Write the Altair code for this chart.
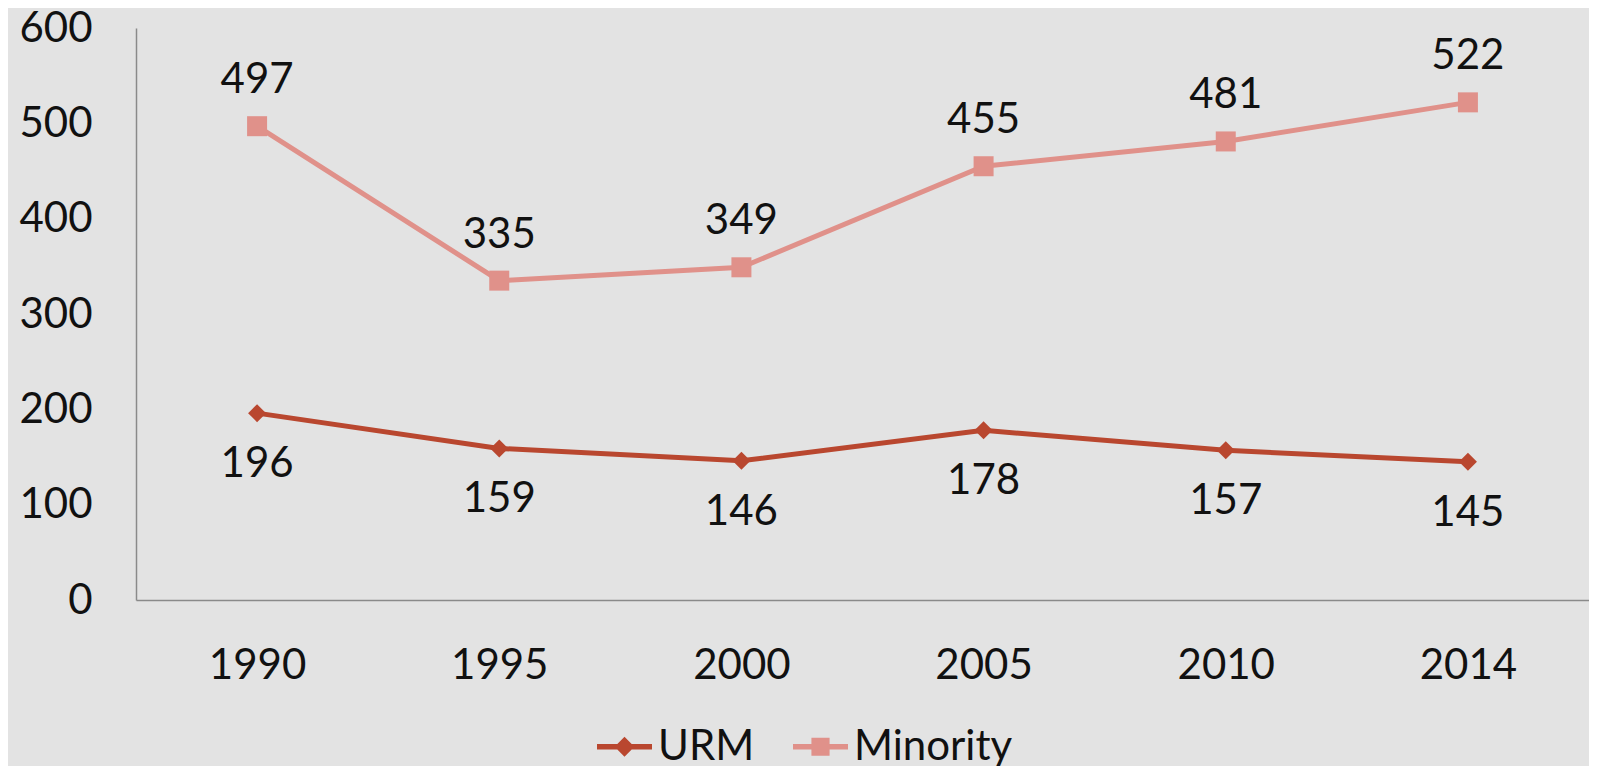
import altair as alt
import pandas as pd

years = ["1990", "1995", "2000", "2005", "2010", "2014"]
urm = [196, 159, 146, 178, 157, 145]
minority = [497, 335, 349, 455, 481, 522]
series_names = ["URM", "Minority"]
series_colors = ["#B9472F", "#E0918A"]
y_ticks = [0, 100, 200, 300, 400, 500, 600]

rows = []
for y, v in zip(years, urm):
    rows.append({"year": y, "value": v, "series": "URM"})
for y, v in zip(years, minority):
    rows.append({"year": y, "value": v, "series": "Minority"})
df = pd.DataFrame(rows)

FONT = "Lato"
FS = 42

color_scale = alt.Scale(domain=series_names, range=series_colors)

x_enc = alt.X("year:O", sort=years, scale=alt.Scale(padding=0.5),
              axis=alt.Axis(title=None, labelAngle=0, ticks=False, grid=False,
                            domainColor="#8A8A8A", domainWidth=1.5,
                            labelFont=FONT, labelFontSize=FS, labelColor="#111111",
                            labelPadding=45))
y_enc = alt.Y("value:Q", scale=alt.Scale(domain=[0, 600], nice=False),
              axis=alt.Axis(title=None, values=y_ticks, ticks=False, grid=False,
                            domainColor="#8A8A8A", domainWidth=1.5,
                            labelFont=FONT, labelFontSize=FS, labelColor="#111111",
                            labelPadding=44))

base = alt.Chart(df).encode(x=x_enc, y=y_enc)
urm_base = base.transform_filter(alt.datum.series == "URM")
min_base = base.transform_filter(alt.datum.series == "Minority")

urm_line = urm_base.mark_line(strokeWidth=5).encode(color=alt.value(series_colors[0]))
min_line = min_base.mark_line(strokeWidth=5).encode(color=alt.value(series_colors[1]))
urm_pts = urm_base.mark_point(shape="diamond", filled=True, size=324, opacity=1,
                              strokeWidth=0).encode(color=alt.value(series_colors[0]))
min_pts = min_base.mark_point(shape="square", filled=True, size=400, opacity=1,
                              strokeWidth=0).encode(color=alt.value(series_colors[1]))

lab_min = min_base.mark_text(dy=-46, font=FONT, fontSize=FS, baseline="middle").encode(
    text="value:Q", color=alt.value("#111111"))
lab_urm = urm_base.mark_text(dy=51, font=FONT, fontSize=FS, baseline="middle").encode(
    text="value:Q", color=alt.value("#111111"))

urm_sym = "M-1,-0.1L1,-0.1L1,0.1L-1,0.1Z M0,-0.36L0.36,0L0,0.36L-0.36,0Z"
min_sym = "M-1,-0.1L1,-0.1L1,0.1L-1,0.1Z M-0.33,-0.33L0.33,-0.33L0.33,0.33L-0.33,0.33Z"

leg = dict(title=None, orient="none", legendX=461, legendY=691,
           direction="horizontal", labelFont=FONT, labelFontSize=FS,
           labelColor="#111111", labelOffset=6, columnPadding=38, padding=0,
           symbolSize=3025, symbolStrokeWidth=0, symbolOpacity=1, labelLimit=500)

legend_layer = alt.Chart(df).mark_point(
    filled=True, opacity=0, strokeWidth=0).encode(
    x=x_enc, y=y_enc,
    color=alt.Color("series:N", scale=color_scale, legend=alt.Legend(**leg)),
    shape=alt.Shape("series:N", scale=alt.Scale(domain=series_names, range=[urm_sym, min_sym]),
                    legend=alt.Legend(**leg)),
)

chart = alt.layer(urm_line, min_line, urm_pts, min_pts, lab_min, lab_urm, legend_layer).properties(
    width=1453, height=572,
    autosize=alt.AutoSizeParams(type="none"),
    padding={"left": 128, "top": 20, "right": 0, "bottom": 175},
    background="#E3E3E3",
).configure_view(stroke=None)

chart.save("out.html", embed_options={"renderer": "svg", "actions": False})
